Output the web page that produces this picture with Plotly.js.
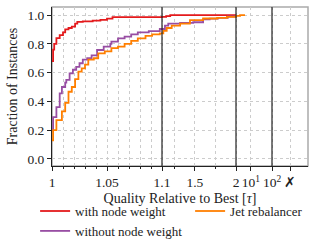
<!DOCTYPE html>
<html>
<head>
<meta charset="utf-8">
<script src="https://cdn.plot.ly/plotly-3.0.1.min.js"></script>
<style>html,body{margin:0;padding:0;background:#fff;}#chart{width:320px;height:240px;}</style>
</head>
<body>
<div id="chart"></div>
<script>
// ---- data (tau = quality relative to best, frac = fraction of instances) ----
const redTau = [1.000, 1.001, 1.002, 1.004, 1.007, 1.010, 1.012, 1.015, 1.018, 1.021, 1.023, 1.028, 1.037, 1.044, 1.050, 1.055, 1.100, 1.150, 1.200, 2.000];
const redFrac = [0.68, 0.76, 0.80, 0.84, 0.86, 0.88, 0.90, 0.91, 0.92, 0.94, 0.953, 0.956, 0.962, 0.966, 0.975, 0.985, 0.987, 0.993, 1.0, 1.0];

const purpleTau = [1.000, 1.001, 1.004, 1.007, 1.009, 1.012, 1.013, 1.016, 1.019, 1.022, 1.025, 1.028, 1.032, 1.036, 1.041, 1.047, 1.053, 1.054, 1.060, 1.066, 1.072, 1.078, 1.088, 1.098, 1.136, 1.176, 1.32, 1.48, 1.60, 1.68, 1.78, 1.90, 2.00];
const purpleFrac = [0.20, 0.29, 0.36, 0.456, 0.50, 0.53, 0.55, 0.595, 0.62, 0.64, 0.665, 0.69, 0.70, 0.72, 0.757, 0.78, 0.80, 0.815, 0.838, 0.85, 0.866, 0.88, 0.889, 0.903, 0.926, 0.94, 0.945, 0.95, 0.97, 0.975, 0.98, 0.99, 1.0];

const orangeTau = [1.000, 1.001, 1.004, 1.009, 1.012, 1.015, 1.018, 1.021, 1.024, 1.027, 1.030, 1.033, 1.038, 1.042, 1.048, 1.054, 1.060, 1.066, 1.072, 1.078, 1.085, 1.091, 1.098, 1.116, 1.157, 1.218, 1.32, 1.44, 1.60, 1.77, 1.89, 2.00, 3.1, 5.3];
const orangeFrac = [0.13, 0.20, 0.27, 0.33, 0.39, 0.467, 0.50, 0.555, 0.607, 0.63, 0.655, 0.69, 0.70, 0.734, 0.748, 0.77, 0.78, 0.80, 0.82, 0.838, 0.856, 0.866, 0.873, 0.89, 0.91, 0.926, 0.94, 0.965, 0.976, 0.98, 0.988, 0.995, 1.0, 1.0];

const seriesNames = ['with node weight', 'without node weight', 'Jet rebalancer'];
const seriesColors = ['#e41a1c', '#984ea3', '#ff7f00'];

const majorTicksTau = [1, 1.05, 1.1, 1.5, 2, 10, 100];
const majorTickText = ['1', '1.05', '1.1', '1.5', '2', '10<sup>1</sup>', '10<sup>2</sup>'];
const failText = '✗';
const minorTicksTau = [1.01, 1.02, 1.03, 1.04, 1.06, 1.07, 1.08, 1.09, 1.25, 1.75];
const breakTau = [1.1, 2, 100];
const yTicks = [0, 0.2, 0.4, 0.6, 0.8, 1.0];

// ---- piecewise axis transform: linear [1,1.1], linear [1.1,2], log [2,100], then fail column ----
const SEG1 = 110, SEG2 = 74, SEG3 = 36, FAILPOS = 238, XMAX = 256;
function toU(t) {
  if (t <= 1.1) return (t - 1) / 0.1 * SEG1;
  if (t <= 2) return SEG1 + (t - 1.1) / 0.9 * SEG2;
  return SEG1 + SEG2 + Math.log10(t / 2) / Math.log10(50) * SEG3;
}

const tauSets = [redTau, purpleTau, orangeTau];
const fracSets = [redFrac, purpleFrac, orangeFrac];
const ranks = [1, 3, 2];
const traces = tauSets.map((ts, i) => ({
  x: ts.map(toU), y: fracSets[i], type: 'scatter', mode: 'lines',
  name: seriesNames[i], line: {color: seriesColors[i], width: 1.8, shape: 'hv'},
  legendrank: ranks[i]
}));

const FONT = 'Liberation Serif, Times New Roman, serif';
const shapes = [
  {type: 'rect', xref: 'paper', yref: 'paper', x0: 0, x1: 1, y0: 0, y1: 1, line: {color: '#aaaaaa', width: 1.5}, layer: 'below'}
].concat(breakTau.map(t => ({type: 'line', xref: 'x', yref: 'paper', x0: toU(t), x1: toU(t), y0: 0, y1: 1, line: {color: '#222', width: 1.2}})));

const layout = {
  width: 320, height: 240,
  margin: {l: 52, r: 12, t: 7, b: 74, autoexpand: false},
  paper_bgcolor: '#fff', plot_bgcolor: '#fff',
  font: {family: FONT, size: 13.5, color: '#222'},
  showlegend: true,
  legend: {orientation: 'h', x: -0.066, y: -0.189, xanchor: 'left', yanchor: 'top', entrywidth: 110,
           font: {family: FONT, size: 13}, itemwidth: 30, tracegroupgap: 0},
  xaxis: {
    range: [0, XMAX], showline: true, linecolor: '#222', linewidth: 1, zeroline: false,
    tickmode: 'array', tickvals: majorTicksTau.map(toU).concat([FAILPOS]), ticktext: majorTickText.concat([failText]),
    ticks: 'outside', ticklen: 4, tickcolor: '#222', tickfont: {family: FONT, size: 13.5},
    showgrid: true, gridcolor: '#cccccc', griddash: 'dot', gridwidth: 1,
    minor: {tickvals: minorTicksTau.map(toU), ticks: 'outside', ticklen: 2, tickcolor: '#222', showgrid: true, gridcolor: '#cccccc', griddash: 'dot'},
    title: {text: 'Quality Relative to Best [<i>τ</i>]', font: {family: FONT, size: 14}, standoff: 3},
    fixedrange: true
  },
  yaxis: {
    range: [-0.049, 1.056], showline: true, linecolor: '#222', linewidth: 1, zeroline: false,
    tickmode: 'array', tickvals: yTicks, ticktext: yTicks.map(v => v.toFixed(1)),
    ticks: 'outside', ticklen: 4, tickcolor: '#222', tickfont: {family: FONT, size: 13.5},
    showgrid: true, gridcolor: '#cccccc', griddash: 'dot', gridwidth: 1,
    title: {text: 'Fraction of Instances', font: {family: FONT, size: 14}, standoff: 6},
    fixedrange: true
  },
  shapes: shapes
};

Plotly.newPlot('chart', traces, layout, {staticPlot: true, displayModeBar: false});
</script>
</body>
</html>
